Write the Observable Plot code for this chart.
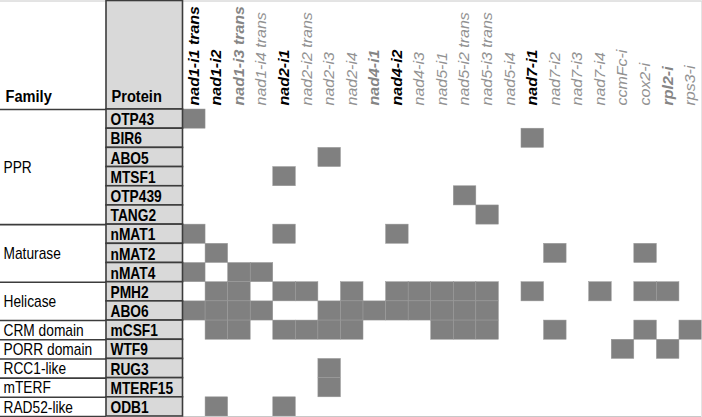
<!DOCTYPE html>
<html>
<head>
<meta charset="utf-8">
<script src="https://cdn.jsdelivr.net/npm/d3@7"></script>
<script src="https://cdn.jsdelivr.net/npm/@observablehq/plot@0.6"></script>
<style>
  html, body { margin: 0; padding: 0; background: #fff; }
  #chart svg { display: block; }
</style>
</head>
<body>
<div id="chart"></div>
<script>
// ---- Data ----
const introns = [
  "nad1-i1 trans", "nad1-i2", "nad1-i3 trans", "nad1-i4 trans", "nad2-i1",
  "nad2-i2 trans", "nad2-i3", "nad2-i4", "nad4-i1", "nad4-i2", "nad4-i3",
  "nad5-i1", "nad5-i2 trans", "nad5-i3 trans", "nad5-i4", "nad7-i1",
  "nad7-i2", "nad7-i3", "nad7-i4", "ccmFc-i", "cox2-i", "rpl2-i", "rps3-i"
];
// label emphasis category for each intron (as printed in the header)
const intronClass = [
  "strong", "strong", "partial", "none", "strong",
  "none", "none", "none", "partial", "strong", "none",
  "none", "none", "none", "none", "strong",
  "none", "none", "none", "none", "none", "partial", "none"
];
const proteins = [
  "OTP43", "BIR6", "ABO5", "MTSF1", "OTP439", "TANG2",
  "nMAT1", "nMAT2", "nMAT4", "PMH2", "ABO6", "mCSF1",
  "WTF9", "RUG3", "MTERF15", "ODB1"
];
const proteinFamily = [
  "PPR", "PPR", "PPR", "PPR", "PPR", "PPR",
  "Maturase", "Maturase", "Maturase", "Helicase", "Helicase", "CRM domain",
  "PORR domain", "RCC1-like", "mTERF", "RAD52-like"
];
const families = ["PPR", "Maturase", "Helicase", "CRM domain", "PORR domain", "RCC1-like", "mTERF", "RAD52-like"];
// introns whose splicing requires each protein (parallel to proteins)
const targets = [
  ["nad1-i1 trans"],
  ["nad7-i1"],
  ["nad2-i3"],
  ["nad2-i1"],
  ["nad5-i2 trans"],
  ["nad5-i3 trans"],
  ["nad1-i1 trans", "nad2-i1", "nad4-i2"],
  ["nad1-i2", "nad7-i2", "cox2-i"],
  ["nad1-i1 trans", "nad1-i3 trans", "nad1-i4 trans"],
  ["nad1-i2", "nad1-i3 trans", "nad2-i1", "nad2-i2 trans", "nad2-i4", "nad4-i2", "nad4-i3",
   "nad5-i1", "nad5-i2 trans", "nad5-i3 trans", "nad7-i1", "nad7-i4", "cox2-i", "rpl2-i"],
  ["nad1-i1 trans", "nad1-i2", "nad1-i3 trans", "nad1-i4 trans", "nad2-i3", "nad2-i4",
   "nad4-i1", "nad4-i2", "nad4-i3", "nad5-i1", "nad5-i2 trans", "nad5-i3 trans"],
  ["nad1-i2", "nad1-i3 trans", "nad2-i1", "nad2-i2 trans", "nad2-i3", "nad2-i4",
   "nad5-i1", "nad5-i2 trans", "nad5-i3 trans", "nad7-i2", "cox2-i", "rps3-i"],
  ["ccmFc-i", "rpl2-i"],
  ["nad2-i3"],
  ["nad2-i3"],
  ["nad1-i2", "nad2-i1"]
];

// ---- Layout (in pixels, converted to cell units) ----
const W = 702, H = 417;
const gridLeft = 182.5, gridRight = 701.5, headerBottom = 109, gridBottom = 416, topEdge = 0.5;
const familyW = 106;
const CW = (gridRight - gridLeft) / introns.length;
const RH = (gridBottom - headerBottom) / proteins.length;
const X0 = -gridLeft / CW;                  // left edge of the table
const PX = -(gridLeft - familyW) / CW;      // left edge of protein column
const Y0 = -(headerBottom - topEdge) / RH;  // top edge of header
const squeeze = 0.86;                        // narrow glyphs, as in the original figure

const cells = proteins.flatMap((p, r) =>
  targets[r].map(t => ({protein: p, row: r, col: introns.indexOf(t)})));

const famGroups = families.map(f => {
  const rows = proteinFamily.map((pf, i) => pf === f ? i : -1).filter(i => i >= 0);
  return {family: f, start: d3.min(rows), end: d3.max(rows) + 1};
});

const dark = "#3c3c3c", light = "#c8c8c8";
const labelColumn = cls => introns.map((n, i) => ({name: n, i, cls: intronClass[i]})).filter(d => d.cls === cls);

const chart = Plot.plot({
  width: W,
  height: H,
  marginTop: topEdge,
  marginBottom: H - gridBottom,
  marginLeft: 0,
  marginRight: W - gridRight,
  x: {type: "linear", domain: [X0, introns.length], axis: null},
  y: {type: "linear", domain: [Y0, proteins.length], reverse: true, axis: null},
  style: {fontFamily: "'Liberation Sans', Arial, sans-serif", background: "#fff"},
  marks: [
    // heatmap cells
    Plot.rect(cells, {x1: d => d.col, x2: d => d.col + 1, y1: d => d.row, y2: d => d.row + 1,
      fill: "#808080", stroke: "#9a9a9a", strokeWidth: 0.5}),
    // outer light borders of grid
    Plot.ruleY([Y0], {x1: X0, x2: introns.length, stroke: light, strokeWidth: 1}),
    Plot.ruleX([introns.length], {y1: Y0, y2: proteins.length, stroke: light, strokeWidth: 1}),
    Plot.ruleY([proteins.length], {x1: 0, x2: introns.length, stroke: light, strokeWidth: 1}),
    // family column group lines
    Plot.ruleY([0, ...famGroups.map(g => g.end)], {x1: X0, x2: PX, stroke: dark, strokeWidth: 1.6}),
    // protein column header and cells
    Plot.rect([{y1: Y0, y2: 0}], {x1: PX, x2: 0, y1: "y1", y2: "y2", fill: "#d9d9d9", stroke: dark, strokeWidth: 1.6}),
    Plot.rect(proteins, {x1: PX, x2: 0, y1: (d, i) => i, y2: (d, i) => i + 1,
      fill: "#d9d9d9", stroke: dark, strokeWidth: 1.6}),
    // headers
    Plot.text(["Family"], {x: X0, y: 0, dx: 5, dy: -13, textAnchor: "start", fontWeight: "bold", fontSize: 17, fill: "#000"}),
    Plot.text(["Protein"], {x: PX, y: 0, dx: 5, dy: -13, textAnchor: "start", fontWeight: "bold", fontSize: 17, fill: "#000"}),
    // family labels
    Plot.text(famGroups, {x: X0, y: d => (d.start + d.end) / 2, text: "family", dx: 3, dy: 0.5, textAnchor: "start", fontSize: 16, fill: "#000"}),
    // protein labels
    Plot.text(proteins, {x: PX, y: (d, i) => i + 0.5, dx: 4, dy: 1, textAnchor: "start", fontWeight: "bold", fontSize: 16, fill: "#000"}),
    // intron labels (rotated)
    Plot.text(labelColumn("strong"), {x: d => d.i + 0.5, y: 0, text: "name", dy: -4, rotate: -90, textAnchor: "start",
      fontStyle: "italic", fontWeight: "bold", fontSize: 16, fill: "#000"}),
    Plot.text(labelColumn("partial"), {x: d => d.i + 0.5, y: 0, text: "name", dy: -4, rotate: -90, textAnchor: "start",
      fontStyle: "italic", fontWeight: "bold", fontSize: 16, fill: "#858585"}),
    Plot.text(labelColumn("none"), {x: d => d.i + 0.5, y: 0, text: "name", dy: -4, rotate: -90, textAnchor: "start",
      fontStyle: "italic", fontWeight: "normal", fontSize: 16, fill: "#929292"})
  ]
});

// narrow all glyphs horizontally (the original figure uses condensed type)
d3.select(chart).selectAll("text").each(function() {
  const t = this.getAttribute("transform") || "";
  const extra = /rotate\(-90\)/.test(t) ? ` scale(1,${squeeze})` : ` scale(${squeeze},1)`;
  this.setAttribute("transform", t + extra);
});

document.getElementById("chart").appendChild(chart);
</script>
</body>
</html>
